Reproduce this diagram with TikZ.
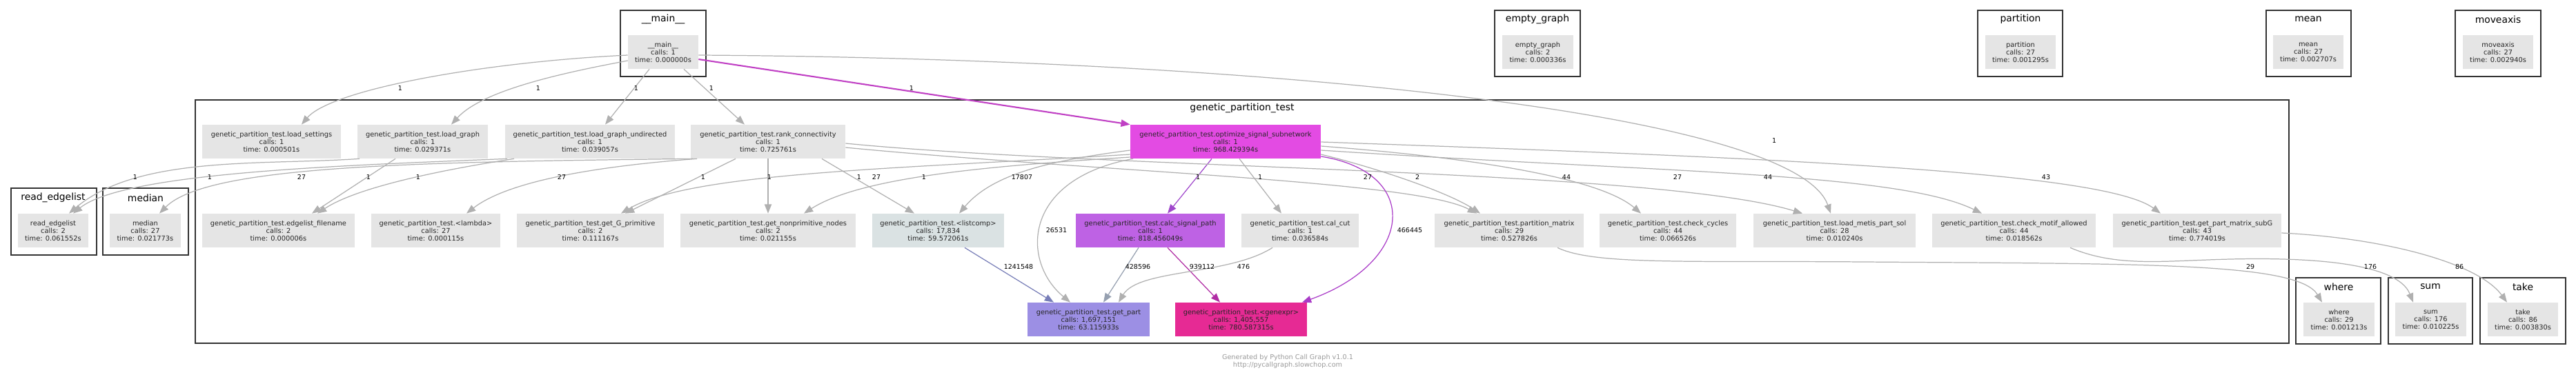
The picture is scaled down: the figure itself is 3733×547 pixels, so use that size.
\documentclass[tikz,border=0pt]{standalone}
\usepackage{fontspec}
\setmainfont{DejaVu Sans}
\usepackage{xcolor}
\usepackage{tikz}
\usetikzlibrary{arrows.meta}

\definecolor{fngray}{RGB}{229,229,229}
\definecolor{grpline}{RGB}{51,51,51}
\definecolor{callgray}{RGB}{176,176,176}
\definecolor{optfill}{RGB}{227,75,227}
\definecolor{calcfill}{RGB}{190,98,228}
\definecolor{listfill}{RGB}{218,226,227}
\definecolor{partfill}{RGB}{156,143,228}
\definecolor{genfill}{RGB}{230,42,148}
\definecolor{mainpurple}{RGB}{192,64,196}
\definecolor{calcpurple}{RGB}{160,72,204}
\definecolor{genpurple}{RGB}{176,44,164}
\definecolor{optpurple}{RGB}{170,60,200}
\definecolor{listblue}{RGB}{120,126,184}
\definecolor{calcgray}{RGB}{150,160,176}

\newcommand{\gpt}{genetic\_partition\_test}

\begin{document}
\begin{tikzpicture}[
    x=0.02cm, y=-0.02cm,
    fn/.style={rectangle, fill=fngray, minimum height=0.98cm, inner sep=0pt, align=center, font=\fontsize{5.6}{6.3}\selectfont, text=black!85},
    group/.style={draw=grpline, line width=1.3pt, fill=white},
    grouptitle/.style={font=\fontsize{7.9}{9}\selectfont, inner sep=0pt},
    call/.style={-{Triangle[length=7.5pt, width=5.8pt]}, draw=callgray, line width=0.7pt},
    cnt/.style={font=\fontsize{5.4}{6}\selectfont, inner sep=0pt},
    credit/.style={font=\fontsize{5.5}{6.2}\selectfont, text=black!40, inner sep=0pt}
]
\useasboundingbox (0,0) rectangle (3733,547);

\draw[group] (899,15) rectangle (1023,111);
\draw[group] (2166,15) rectangle (2290,111);
\draw[group] (2866,15) rectangle (2989,111);
\draw[group] (3284,15) rectangle (3407,111);
\draw[group] (3558,15) rectangle (3682,111);
\draw[group] (283,145) rectangle (3317,498);
\draw[group] (16,273) rectangle (140,370);
\draw[group] (149,273) rectangle (273,370);
\draw[group] (3327,403) rectangle (3450,499);
\draw[group] (3461,403) rectangle (3583,499);
\draw[group] (3594,403) rectangle (3718,499);

\node[grouptitle] (g-main) at (961,28) {\_\_main\_\_};
\node[grouptitle] (g-empty) at (2228,28) {empty\_graph};
\node[grouptitle] (g-partition) at (2928,28) {partition};
\node[grouptitle] (g-mean) at (3345,28) {mean};
\node[grouptitle] (g-moveaxis) at (3620,28) {moveaxis};
\node[grouptitle] (g-gpt) at (1800,157) {\gpt};
\node[grouptitle] (g-readedge) at (77,287) {read\_edgelist};
\node[grouptitle] (g-median) at (211,287) {median};
\node[grouptitle] (g-where) at (3389,416) {where};
\node[grouptitle] (g-sum) at (3522,416) {sum};
\node[grouptitle] (g-take) at (3656,416) {take};

\node[fn, minimum width=2.04cm] (main) at (961,75.5) {\_\_main\_\_\\calls: 1\\time: 0.000000s};
\node[fn, minimum width=2.06cm] (empty) at (2228.5,75.5) {empty\_graph\\calls: 2\\time: 0.000336s};
\node[fn, minimum width=2.04cm] (partition) at (2928,75.5) {partition\\calls: 27\\time: 0.001295s};
\node[fn, minimum width=2.04cm] (mean) at (3345,75.5) {mean\\calls: 27\\time: 0.002707s};
\node[fn, minimum width=2.04cm] (moveaxis) at (3620,75.5) {moveaxis\\calls: 27\\time: 0.002940s};

\node[fn, minimum width=4.02cm] (settings) at (393.5,205.5) {\gpt.load\_settings\\calls: 1\\time: 0.000501s};
\node[fn, minimum width=3.78cm] (graph) at (612.5,205.5) {\gpt.load\_graph\\calls: 1\\time: 0.029371s};
\node[fn, minimum width=4.92cm] (undirected) at (855,205.5) {\gpt.load\_graph\_undirected\\calls: 1\\time: 0.039057s};
\node[fn, minimum width=4.48cm] (rank) at (1113,205.5) {\gpt.rank\_connectivity\\calls: 1\\time: 0.725761s};
\node[fn, minimum width=5.52cm, fill=optfill] (optimize) at (1776,205.5) {\gpt.optimize\_signal\_subnetwork\\calls: 1\\time: 968.429394s};

\node[fn, minimum width=2.04cm] (readedge) at (77,334.5) {read\_edgelist\\calls: 2\\time: 0.061552s};
\node[fn, minimum width=2.06cm] (median) at (210.5,334.5) {median\\calls: 27\\time: 0.021773s};
\node[fn, minimum width=4.42cm] (filename) at (403.5,334.5) {\gpt.edgelist\_filename\\calls: 2\\time: 0.000006s};
\node[fn, minimum width=3.74cm] (lambda) at (631.5,334.5) {\gpt.<lambda>\\calls: 27\\time: 0.000115s};
\node[fn, minimum width=4.26cm] (primitive) at (855.5,334.5) {\gpt.get\_G\_primitive\\calls: 2\\time: 0.111167s};
\node[fn, minimum width=5.08cm] (nonprim) at (1113,334.5) {\gpt.get\_nonprimitive\_nodes\\calls: 2\\time: 0.021155s};
\node[fn, minimum width=3.82cm, fill=listfill] (listcomp) at (1359.5,334.5) {\gpt.<listcomp>\\calls: 17,834\\time: 59.572061s};
\node[fn, minimum width=4.32cm, fill=calcfill] (calc) at (1667,334.5) {\gpt.calc\_signal\_path\\calls: 1\\time: 818.456049s};
\node[fn, minimum width=3.40cm] (calcut) at (1884,334.5) {\gpt.cal\_cut\\calls: 1\\time: 0.036584s};
\node[fn, minimum width=4.32cm] (pmatrix) at (2187,334.5) {\gpt.partition\_matrix\\calls: 29\\time: 0.527826s};
\node[fn, minimum width=3.96cm] (cycles) at (2417,334.5) {\gpt.check\_cycles\\calls: 44\\time: 0.066526s};
\node[fn, minimum width=4.70cm] (metis) at (2658.5,334.5) {\gpt.load\_metis\_part\_sol\\calls: 28\\time: 0.010240s};
\node[fn, minimum width=4.74cm] (motif) at (2918.5,334.5) {\gpt.check\_motif\_allowed\\calls: 44\\time: 0.018562s};
\node[fn, minimum width=4.88cm] (subG) at (3184,334.5) {\gpt.get\_part\_matrix\_subG\\calls: 43\\time: 0.774019s};

\node[fn, minimum width=3.54cm, fill=partfill] (getpart) at (1577.5,463.5) {\gpt.get\_part\\calls: 1,697,151\\time: 63.115933s};
\node[fn, minimum width=3.82cm, fill=genfill] (genexpr) at (1798.5,463.5) {\gpt.<genexpr>\\calls: 1,405,557\\time: 780.587315s};
\node[fn, minimum width=2.06cm] (where) at (3389.5,463.5) {where\\calls: 29\\time: 0.001213s};
\node[fn, minimum width=2.06cm] (sum) at (3522.5,463.5) {sum\\calls: 176\\time: 0.010225s};
\node[fn, minimum width=2.04cm] (take) at (3656,463.5) {take\\calls: 86\\time: 0.003830s};

\draw[call] (main.west |- 0,80) .. controls (700,90) and (480,130) .. (settings.north -| 437,0);
\draw[call] (main.west |- 0,88) .. controls (820,105) and (700,130) .. (graph.north -| 654,0);
\draw[call] (main.south -| 941,0) -- (undirected.north -| 877,0);
\draw[call] (main.south -| 991,0) -- (rank.north -| 1079,0);
\draw[call, draw=mainpurple, line width=1.2pt] (main.east |- 0,86) -- (optimize.north west);
\draw[call] (main.east |- 0,80) .. controls (1800,85) and (2600,160) .. (metis.north -| 2653,0);

\draw[call] (graph.south -| 521,0) .. controls (380,240) and (200,225) .. (readedge.north -| 100,0);
\draw[call] (undirected.south -| 735,0) .. controls (500,240) and (180,250) .. (readedge.north -| 106,0);
\draw[call] (rank.south -| 1004,0) .. controls (600,235) and (300,240) .. (median.north -| 231,0);
\draw[call] (graph.south -| 573,0) -- (filename.north -| 452,0);
\draw[call] (undirected.south -| 745,0) .. controls (650,245) and (520,270) .. (filename.north -| 460,0);
\draw[call] (rank.south -| 1010,0) .. controls (880,240) and (740,260) .. (lambda.north -| 676,0);
\draw[call] (rank.south -| 1066,0) -- (primitive.north -| 906,0);
\draw[call] (rank.south) -- (nonprim.north);
\draw[call] (optimize.west |- 0,224) .. controls (1300,245) and (1000,250) .. (primitive.north -| 900,0);
\draw[call] (rank.south -| 1191,0) -- (listcomp.north -| 1325,0);
\draw[call] (optimize.west |- 0,228) .. controls (1450,240) and (1250,255) .. (nonprim.north -| 1165,0);
\draw[call] (optimize.west |- 0,218) .. controls (1530,232) and (1440,250) .. (listcomp.north -| 1390,0);
\draw[call] (optimize.south -| 1642,0) .. controls (1480,260) and (1480,380) .. (getpart.north -| 1551,0);
\draw[call, draw=calcpurple] (optimize.south -| 1756,0) -- (calc.north -| 1692,0);
\draw[call] (optimize.south -| 1796,0) -- (calcut.north -| 1857,0);
\draw[call] (rank.east |- 0,214) .. controls (1600,250) and (2050,262) .. (pmatrix.north -| 2140,0);
\draw[call] (optimize.east |- 0,224) .. controls (2000,245) and (2100,280) .. (pmatrix.north -| 2145,0);
\draw[call] (optimize.east |- 0,212) .. controls (2150,230) and (2320,260) .. (cycles.north -| 2378,0);
\draw[call] (rank.east |- 0,208) .. controls (1600,245) and (2400,245) .. (metis.north -| 2612,0);
\draw[call] (optimize.east |- 0,218) .. controls (2400,250) and (2750,250) .. (motif.north -| 2872,0);
\draw[call] (optimize.east |- 0,206) .. controls (2600,230) and (3050,250) .. (subG.north -| 3131,0);

\draw[call, draw=listblue] (listcomp.south -| 1398,0) -- (getpart.north -| 1527,0);
\draw[call, draw=calcgray] (calc.south -| 1650,0) -- (getpart.north -| 1599,0);
\draw[call, draw=genpurple] (calc.south -| 1692,0) -- (genexpr.north -| 1768,0);
\draw[call] (calcut.south -| 1844,0) .. controls (1780,400) and (1650,390) .. (getpart.north -| 1621,0);
\draw[call, draw=optpurple] (optimize.east |- 0,227) .. controls (2060,250) and (2050,380) .. (genexpr.north -| 1887,0);
\draw[call] (pmatrix.south -| 2257,0) .. controls (2310,385) and (2450,378) .. (2700,380) .. controls (3100,383) and (3330,380) .. (where.north -| 3365,0);
\draw[call] (motif.south -| 3000,0) .. controls (3060,385) and (3120,380) .. (3200,377) .. controls (3280,374) and (3470,370) .. (sum.north -| 3497,0);
\draw[call] (subG.east |- 0,338) .. controls (3450,345) and (3590,380) .. (take.north -| 3633,0);

\node[cnt] (c01) at (580,128) {1};
\node[cnt] (c02) at (780,128) {1};
\node[cnt] (c03) at (922,128) {1};
\node[cnt] (c04) at (1031,128) {1};
\node[cnt] (c05) at (1321,128) {1};
\node[cnt] (c06) at (2571,204) {1};
\node[cnt] (c07) at (196,257) {1};
\node[cnt] (c08) at (304,257) {1};
\node[cnt] (c09) at (437,257) {27};
\node[cnt] (c10) at (534,257) {1};
\node[cnt] (c11) at (606,257) {1};
\node[cnt] (c12) at (814,257) {27};
\node[cnt] (c13) at (1019,257) {1};
\node[cnt] (c14) at (1115,257) {1};
\node[cnt] (c15) at (1245,257) {1};
\node[cnt] (c16) at (1270,257) {27};
\node[cnt] (c17) at (1339,257) {1};
\node[cnt] (c18) at (1481,257) {17807};
\node[cnt] (c19) at (1736,257) {1};
\node[cnt] (c20) at (1826,257) {1};
\node[cnt] (c21) at (1982,257) {27};
\node[cnt] (c22) at (2054,257) {2};
\node[cnt] (c23) at (2270,257) {44};
\node[cnt] (c24) at (2431,257) {27};
\node[cnt] (c25) at (2562,257) {44};
\node[cnt] (c26) at (2965,257) {43};
\node[cnt] (c27) at (1531,334) {26531};
\node[cnt] (c28) at (2043,334) {466445};
\node[cnt] (c29) at (1476,387) {1241548};
\node[cnt] (c30) at (1649,387) {428596};
\node[cnt] (c31) at (1742,387) {939112};
\node[cnt] (c32) at (1802,387) {476};
\node[cnt] (c33) at (3261,387) {29};
\node[cnt] (c34) at (3435,387) {176};
\node[cnt] (c35) at (3564,387) {86};

\node[credit] (foot1) at (1866,519) {Generated by Python Call Graph v1.0.1};
\node[credit] (foot2) at (1866,530) {http://pycallgraph.slowchop.com};

\end{tikzpicture}
\end{document}
